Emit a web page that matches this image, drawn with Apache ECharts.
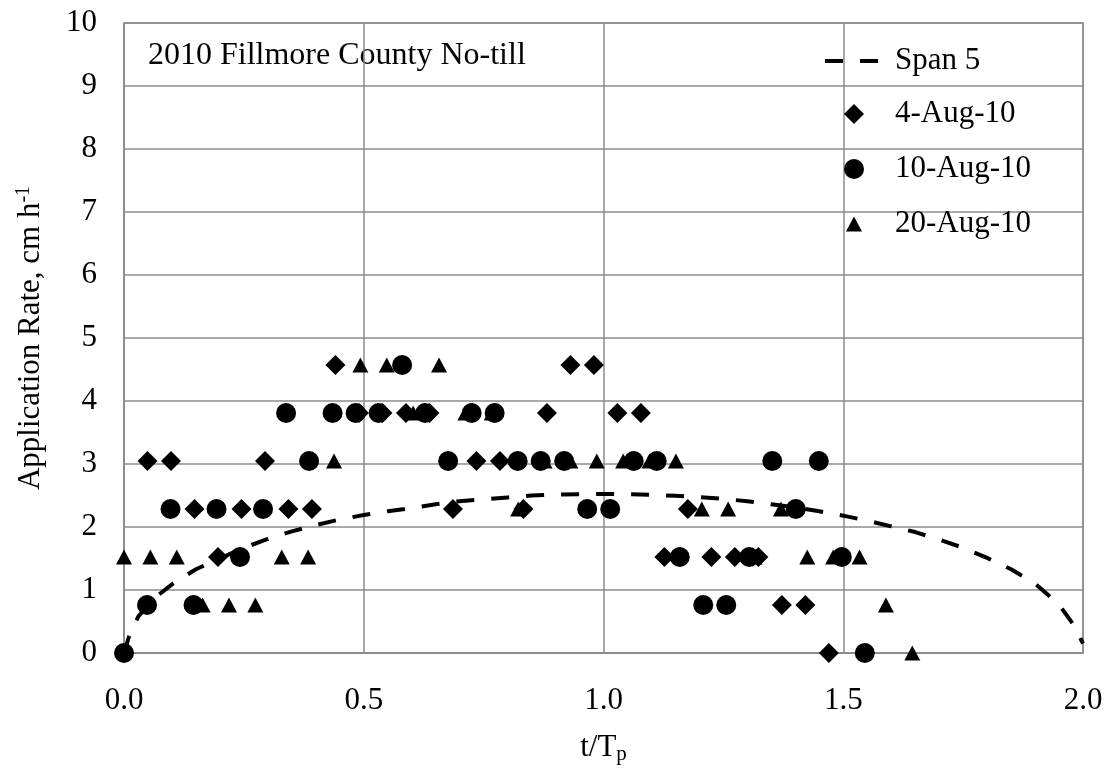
<!DOCTYPE html>
<html>
<head>
<meta charset="utf-8">
<script src="https://cdn.jsdelivr.net/npm/echarts@6/dist/echarts.min.js"></script>
<style>
  html, body { margin: 0; padding: 0; background: #fff; }
  #chart { width: 1109px; height: 771px; }
</style>
</head>
<body>
<div id="chart"></div>
<script>
const FONT = "'Liberation Serif', 'Times New Roman', serif";
const GRID_COLOR = '#8c8c8c';

// Axis ticks
const xTicks = [0.0, 0.5, 1.0, 1.5, 2.0];
const yTicks = [0, 1, 2, 3, 4, 5, 6, 7, 8, 9, 10];

// Span 5 smoothed application-rate curve (t/Tp, cm/h)
const spanT = [0.00, 0.01, 0.03, 0.06, 0.10, 0.15, 0.20, 0.25, 0.30, 0.35, 0.40, 0.45,
               0.50, 0.55, 0.60, 0.65, 0.70, 0.75, 0.80, 0.85, 0.90, 0.95, 1.00, 1.05,
               1.10, 1.15, 1.20, 1.25, 1.30, 1.35, 1.40, 1.45, 1.50, 1.55, 1.60, 1.65,
               1.70, 1.75, 1.80, 1.85, 1.90, 1.95, 1.98, 2.00];
const spanRate = [0.00, 0.25, 0.58, 0.85, 1.09, 1.33, 1.50, 1.67, 1.81, 1.93, 2.03, 2.12,
                  2.19, 2.25, 2.30, 2.36, 2.41, 2.44, 2.47, 2.50, 2.515, 2.52, 2.525, 2.52,
                  2.51, 2.495, 2.475, 2.445, 2.41, 2.36, 2.31, 2.25, 2.18, 2.10, 2.01, 1.92,
                  1.80, 1.67, 1.51, 1.33, 1.10, 0.77, 0.45, 0.15];

// 4-Aug-10 catch-can rates
const aug04T = [0.049, 0.098, 0.147, 0.196, 0.245, 0.294, 0.343, 0.392, 0.441, 0.490,
                0.539, 0.588, 0.637, 0.686, 0.735, 0.784, 0.833, 0.882, 0.931, 0.980,
                1.029, 1.078, 1.127, 1.176, 1.225, 1.274, 1.323, 1.372, 1.421, 1.470];
const aug04Rate = [3.048, 3.048, 2.286, 1.524, 2.286, 3.048, 2.286, 2.286, 4.572, 3.810,
                   3.810, 3.810, 3.810, 2.286, 3.048, 3.048, 2.286, 3.810, 4.572, 4.572,
                   3.810, 3.810, 1.524, 2.286, 1.524, 1.524, 1.524, 0.762, 0.762, 0.000];

// 10-Aug-10 catch-can rates
const aug10T = [0.000, 0.048, 0.097, 0.145, 0.193, 0.242, 0.290, 0.338, 0.386, 0.435,
                0.483, 0.531, 0.580, 0.628, 0.676, 0.725, 0.773, 0.821, 0.869, 0.918,
                0.966, 1.014, 1.063, 1.111, 1.159, 1.208, 1.256, 1.304, 1.352, 1.401,
                1.449, 1.497, 1.545];
const aug10Rate = [0.000, 0.762, 2.286, 0.762, 2.286, 1.524, 2.286, 3.810, 3.048, 3.810,
                   3.810, 3.810, 4.572, 3.810, 3.048, 3.810, 3.810, 3.048, 3.048, 3.048,
                   2.286, 2.286, 3.048, 3.048, 1.524, 0.762, 0.762, 1.524, 3.048, 2.286,
                   3.048, 1.524, 0.000];

// 20-Aug-10 catch-can rates
const aug20T = [0.000, 0.055, 0.110, 0.164, 0.219, 0.274, 0.329, 0.384, 0.438, 0.493,
                0.548, 0.603, 0.657, 0.712, 0.767, 0.822, 0.877, 0.931, 0.986, 1.041,
                1.096, 1.151, 1.205, 1.260, 1.315, 1.370, 1.425, 1.479, 1.534, 1.589,
                1.644];
const aug20Rate = [1.524, 1.524, 1.524, 0.762, 0.762, 0.762, 1.524, 1.524, 3.048, 4.572,
                   4.572, 3.810, 4.572, 3.810, 3.810, 2.286, 3.048, 3.048, 3.048, 3.048,
                   3.048, 3.048, 2.286, 2.286, 1.524, 2.286, 1.524, 1.524, 1.524, 0.762,
                   0.000];

const pairs = (xs, ys) => xs.map((x, i) => [x, ys[i]]);

const textBase = { fontFamily: FONT, fontSize: 31, color: '#000' };

const chart = echarts.init(document.getElementById('chart'), null, { renderer: 'canvas' });

chart.setOption({
  animation: false,
  backgroundColor: '#fff',
  grid: {
    left: 124, right: 26, top: 23, bottom: 118,
    show: true, borderColor: GRID_COLOR, borderWidth: 1.5, backgroundColor: 'transparent'
  },
  graphic: [{
    type: 'text',
    x: 148, y: 56,
    style: {
      text: '2010 Fillmore County No-till',
      font: '32px ' + FONT,
      fill: '#000',
      verticalAlign: 'middle'
    }
  }],
  legend: [
    {
      data: ['Span 5'], left: 818, top: 38, itemWidth: 55, itemHeight: 14,
      textStyle: Object.assign({ lineHeight: 36, padding: [0, 0, 0, 10] }, textBase),
      lineStyle: { color: '#000', width: 4, type: [18, 17] },
      itemStyle: { opacity: 0 }
    },
    {
      data: [{ name: '4-Aug-10', icon: 'diamond' }], left: 839, top: 91,
      itemWidth: 20, itemHeight: 20,
      textStyle: Object.assign({ lineHeight: 36, padding: [0, 0, 0, 26] }, textBase)
    },
    {
      data: [{ name: '10-Aug-10', icon: 'circle' }], left: 839, top: 146,
      itemWidth: 20, itemHeight: 20,
      textStyle: Object.assign({ lineHeight: 36, padding: [0, 0, 0, 26] }, textBase)
    },
    {
      data: [{ name: '20-Aug-10', icon: 'triangle' }], left: 841, top: 201,
      itemWidth: 16, itemHeight: 15,
      textStyle: Object.assign({ lineHeight: 36, padding: [0, 0, 0, 28] }, textBase)
    }
  ],
  xAxis: {
    type: 'value',
    min: xTicks[0], max: xTicks[xTicks.length - 1], interval: 0.5,
    name: '{i|t/T}{sub|p}',
    nameLocation: 'middle',
    nameGap: 78,
    nameTextStyle: {
      rich: {
        i: { fontFamily: FONT, fontSize: 31, color: '#000', lineHeight: 34, verticalAlign: 'middle' },
        sub: { fontFamily: FONT, fontSize: 21, color: '#000', lineHeight: 22, verticalAlign: 'bottom' }
      }
    },
    axisLine: { show: true, lineStyle: { color: GRID_COLOR, width: 1.5 } },
    axisTick: { show: false },
    splitLine: { show: true, lineStyle: { color: GRID_COLOR, width: 1.5 } },
    axisLabel: {
      margin: 32,
      fontFamily: FONT, fontSize: 31, color: '#000',
      formatter: v => v.toFixed(1)
    }
  },
  yAxis: {
    type: 'value',
    min: yTicks[0], max: yTicks[yTicks.length - 1], interval: 1,
    name: '{i|Application Rate, cm h}{sup|-1}',
    nameLocation: 'middle',
    nameRotate: 90,
    nameGap: 76,
    nameTextStyle: {
      rich: {
        i: { fontFamily: FONT, fontSize: 31, color: '#000', lineHeight: 34, verticalAlign: 'middle' },
        sup: { fontFamily: FONT, fontSize: 20, color: '#000', lineHeight: 20, verticalAlign: 'top' }
      }
    },
    axisLine: { show: true, lineStyle: { color: GRID_COLOR, width: 1.5 } },
    axisTick: { show: false },
    splitLine: { show: true, lineStyle: { color: GRID_COLOR, width: 1.5 } },
    axisLabel: {
      margin: 27,
      fontFamily: FONT, fontSize: 31, color: '#000'
    }
  },
  series: [
    {
      name: 'Span 5', type: 'line', data: pairs(spanT, spanRate),
      symbol: 'none', smooth: false, z: 6,
      lineStyle: { color: '#000', width: 4, type: [18, 17] },
      itemStyle: { color: '#000' }
    },
    {
      name: '4-Aug-10', type: 'scatter', data: pairs(aug04T, aug04Rate),
      symbol: 'diamond', symbolSize: 20, z: 3,
      itemStyle: { color: '#000', opacity: 1 }
    },
    {
      name: '10-Aug-10', type: 'scatter', data: pairs(aug10T, aug10Rate),
      symbol: 'circle', symbolSize: 20, z: 4,
      itemStyle: { color: '#000', opacity: 1 }
    },
    {
      name: '20-Aug-10', type: 'scatter', data: pairs(aug20T, aug20Rate),
      symbol: 'triangle', symbolSize: [16, 15], z: 2,
      itemStyle: { color: '#000', opacity: 1 }
    }
  ]
});
</script>
</body>
</html>
